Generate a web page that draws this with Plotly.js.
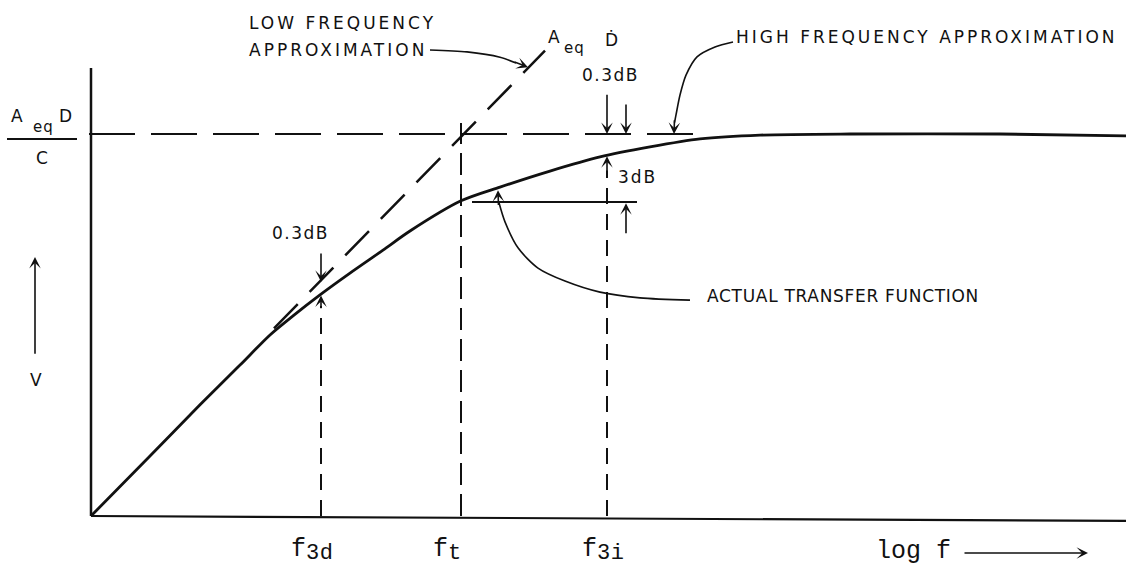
<!DOCTYPE html>
<html>
<head>
<meta charset="utf-8">
<script src="https://cdn.plot.ly/plotly-3.0.1.min.js"></script>
<style>
html,body{margin:0;padding:0;background:#fff;}
#chart{width:1126px;height:568px;}
</style>
</head>
<body>
<div id="chart"></div>
<script>
// ---- values (x: log f units, y: V normalised to A_eq·D/C = 1) ----
const curveX = [0, 0.59, 1.09, 1.49, 1.79, 2.02, 2.29, 2.59, 2.92, 3.19, 3.70, 4.09, 4.59, 5.09, 5.59, 6.09, 6.69, 7.59, 9.09, 10.35];
const curveY = [0, 0.157, 0.291, 0.395, 0.474, 0.524, 0.579, 0.636, 0.696, 0.746, 0.825, 0.861, 0.903, 0.940, 0.966, 0.987, 0.997, 1.0, 1.0, 0.995];

const lowFreqX = [1.83, 4.54];
const lowFreqY = [0.491, 1.218];

const highFreqX = [-0.02, 6.05];
const highFreqY = [1.0, 1.0];

const freqLabels = ['3d', 't', '3i'];
const freqX = [2.30, 3.70, 5.16];
const freqTop = [0.55, 1.029, 0.905];
const freqDash = ['16px,10px', '22px,9px', '16px,10px'];

const ref3dBX = [3.81, 5.46];
const ref3dBY = [0.822, 0.822];

const yAxisX = [0, 0];
const yAxisY = [0, 1.173];
const xAxisX = [0, 10.35];
const xAxisY = [0, -0.013];

const fracBarX = [-0.84, -0.14];
const fracBarY = [0.987, 0.987];

const lfArrowX = [3.39, 3.76, 4.09, 4.25];
const lfArrowY = [1.220, 1.215, 1.201, 1.186];
const hfArrowX = [6.42, 6.24, 6.06, 5.95, 5.89, 5.85, 5.835];
const hfArrowY = [1.241, 1.228, 1.202, 1.154, 1.102, 1.050, 1.03];
const tfArrowX = [5.99, 5.49, 5.09, 4.74, 4.47, 4.27, 4.14, 4.08];
const tfArrowY = [0.565, 0.571, 0.586, 0.615, 0.649, 0.702, 0.770, 0.82];

const INK = '#111111';
const SANS = 'DejaVu Sans';
const MONO = 'Liberation Mono';

function line(x, y, width, dash, shape) {
  return {x: x, y: y, type: 'scatter', mode: 'lines', hoverinfo: 'skip',
    line: {color: INK, width: width, dash: dash || 'solid', shape: shape || 'linear', smoothing: 0.8}};
}

const traces = [
  line(yAxisX, yAxisY, 2.5),
  line(xAxisX, xAxisY, 2.2),
  line(highFreqX, highFreqY, 2, '46px,16px'),
  line(lowFreqX, lowFreqY, 2.5, '34px,17px'),
  line(curveX, curveY, 2.8, 'solid', 'spline'),
  line(ref3dBX, ref3dBY, 1.8),
  line(fracBarX, fracBarY, 2),
  line(lfArrowX, lfArrowY, 1.6, 'solid', 'spline'),
  line(hfArrowX, hfArrowY, 1.6, 'solid', 'spline'),
  line(tfArrowX, tfArrowY, 1.6, 'solid', 'spline')
];
freqX.forEach(function (fx, i) {
  traces.push(line([fx, fx], [0, freqTop[i]], 2, freqDash[i]));
});

const annotations = [];
const spacing = [];
function text(t, x, y, font, ls, anchor) {
  annotations.push({text: t, x: x, y: y, xref: 'x', yref: 'y', showarrow: false,
    xanchor: anchor || 'left', yanchor: 'middle', font: font, borderpad: 0});
  spacing.push(ls || 0);
}
function arrow(tx, ty, hx, hy) {
  annotations.push({text: '', x: hx, y: hy, ax: tx, ay: ty, xref: 'x', yref: 'y', axref: 'x', ayref: 'y',
    showarrow: true, arrowhead: 3, arrowsize: 1.2, arrowwidth: 1.6, arrowcolor: INK, standoff: 0, startstandoff: 0});
  spacing.push(0);
}
const capsFont = {family: SANS, size: 17, color: INK};
const monoFont = {family: MONO, size: 25, color: INK};
const subFont = {family: MONO, size: 22, color: INK};

text('LOW FREQUENCY', 1.57, 1.2906, capsFont, 3);
text('APPROXIMATION', 1.57, 1.2199, capsFont, 3);
text('HIGH FREQUENCY APPROXIMATION', 6.44, 1.254, capsFont, 3);
text('ACTUAL TRANSFER FUNCTION', 6.15, 0.576, capsFont, 0.7);
text('0.3dB', 4.90, 1.154, capsFont, 1.5);
text('0.3dB', 1.80, 0.741, capsFont, 1.5);
text('3dB', 5.26, 0.887, capsFont, 2);
text('A', 4.56, 1.254, capsFont, 0);
text('eq', 4.72, 1.225, {family: SANS, size: 15, color: INK}, 1);
text('Ḋ', 5.20, 1.245, capsFont, 0, 'center');
text('A', -0.81, 1.047, capsFont, 0);
text('eq', -0.59, 1.018, {family: SANS, size: 15, color: INK}, 1);
text('D', -0.33, 1.047, capsFont, 0);
text('C', -0.49, 0.937, capsFont, 0, 'center');
text('V', -0.55, 0.356, capsFont, 0, 'center');
// frequency labels under the axis
const fSub = [2.14, 3.56, 5.05];
const fMain = [1.99, 3.41, 4.90];
freqLabels.forEach(function (lab, i) {
  text('f', fMain[i], -0.087, monoFont, 0);
  text(lab, fSub[i], -0.0969, subFont, 0.5);
});
text('log f', 7.84, -0.092, monoFont, 0);

arrow(-0.56, 0.421, -0.56, 0.678);   // V arrow
arrow(8.72, -0.0969, 9.97, -0.0969); // log f arrow
arrow(5.16, 1.107, 5.16, 1.0);       // upper 0.3dB
arrow(5.35, 1.081, 5.35, 1.0);
arrow(5.16, 0.90, 5.16, 0.942);      // 3dB
arrow(5.35, 0.736, 5.35, 0.819);
arrow(2.30, 0.691, 2.30, 0.613);     // lower 0.3dB
arrow(2.30, 0.54, 2.30, 0.577);
arrow(4.22, 1.190, 4.37, 1.175);     // low frequency arrow head
arrow(5.835, 1.04, 5.83, 1.0);       // high frequency arrow head
arrow(4.075, 0.81, 4.07, 0.853);     // actual transfer function arrow head

const layout = {
  width: 1126, height: 568,
  margin: {l: 0, r: 0, t: 0, b: 0, pad: 0},
  paper_bgcolor: '#ffffff', plot_bgcolor: '#ffffff',
  showlegend: false, hovermode: false,
  xaxis: {range: [-0.91, 10.35], visible: false, fixedrange: true},
  yaxis: {range: [-0.13613, 1.35079], visible: false, fixedrange: true},
  annotations: annotations
};

Plotly.newPlot('chart', traces, layout, {staticPlot: true, displayModeBar: false}).then(function () {
  document.querySelectorAll('.annotation').forEach(function (g) {
    const idx = +g.getAttribute('data-index');
    const t = g.querySelector('text.annotation-text');
    if (!t || !spacing[idx]) return;
    const b0 = t.getBBox();
    t.style.letterSpacing = spacing[idx] + 'px';
    const b1 = t.getBBox();
    const dx = b0.x - b1.x;
    t.setAttribute('x', (parseFloat(t.getAttribute('x')) || 0) + dx);
  });
});
</script>
</body>
</html>
